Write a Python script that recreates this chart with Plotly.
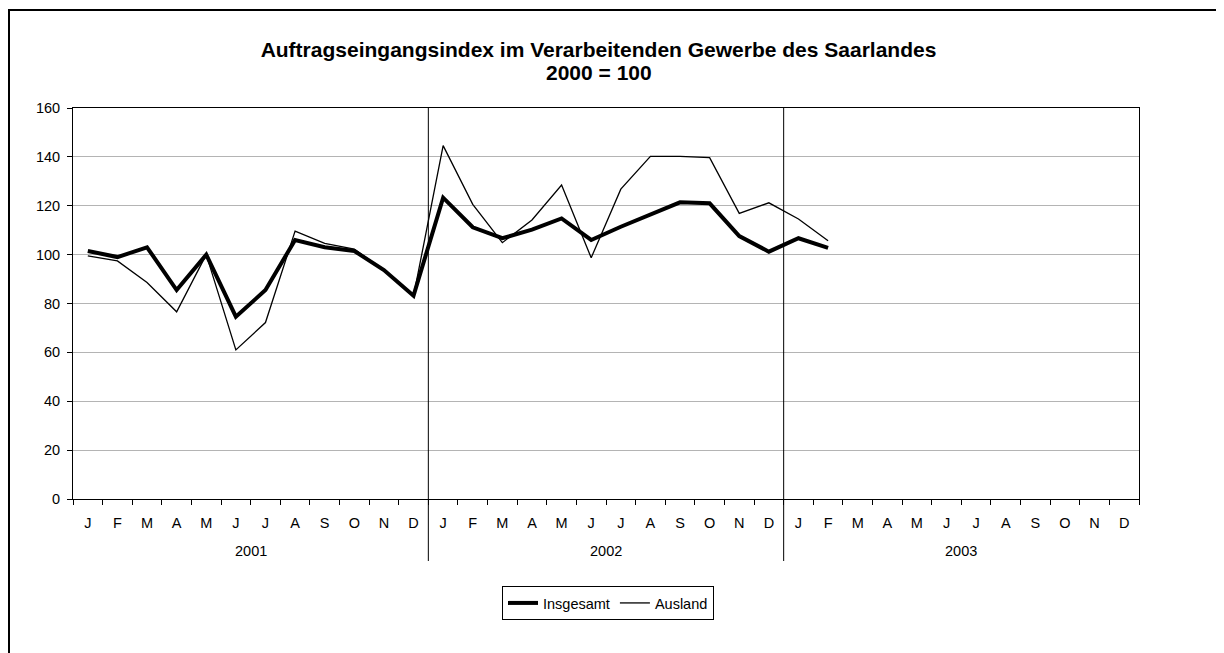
import plotly.graph_objects as go

months = ["J", "F", "M", "A", "M", "J", "J", "A", "S", "O", "N", "D"] * 3
years = ["2001", "2002", "2003"]

insgesamt = [101.5, 99.0, 103.0, 85.5, 100.0, 74.6, 85.5, 106.0, 103.0, 101.5, 93.7, 83.2,
             123.3, 111.2, 106.7, 110.2, 114.8, 106.0, 111.4, 116.5, 121.4, 121.0, 107.6, 101.2,
             106.7, 102.8]
ausland = [99.5, 97.4, 88.6, 76.6, 100.0, 61.0, 72.2, 109.6, 104.6, 102.3, 93.5, 83.0,
           144.6, 120.6, 104.9, 114.2, 128.5, 98.7, 126.8, 140.2, 140.2, 139.7, 116.9, 121.2,
           114.6, 105.7]

FONT = "Arial, Liberation Sans, sans-serif"
OFF = 8  # page body margin
W, H = 1224 - OFF, 653 - OFF
L, R, T, B = 73 - OFF, 1139 - OFF, 108 - OFF, 499 - OFF
pw, ph = R - L, B - T


def py(page_y):
    return -((page_y - OFF) - B) / ph


def px(page_x):
    return ((page_x - OFF) - L) / pw


xs_i = [i + 0.5 for i in range(len(insgesamt))]
xs_a = [i + 0.5 for i in range(len(ausland))]

fig = go.Figure()
fig.add_trace(go.Scatter(x=xs_i, y=insgesamt, mode="lines", name="Insgesamt",
                         line=dict(color="black", width=4)))
fig.add_trace(go.Scatter(x=xs_a, y=ausland, mode="lines", name="Ausland",
                         line=dict(color="black", width=1.3)))

shapes = []
for k in (12, 24):
    shapes.append(dict(type="line", xref="x", yref="paper", x0=k, x1=k,
                       y0=py(561), y1=1, line=dict(color="black", width=1)))
# outer frame (right and bottom sides fall outside the page)
shapes.append(dict(type="rect", xref="paper", yref="paper",
                   x0=px(9), x1=px(1260), y0=py(700), y1=py(10),
                   line=dict(color="black", width=2), layer="below"))

annotations = []
for j, yr in enumerate(years):
    annotations.append(dict(text=yr, x=6 + 12 * j, xref="x", y=py(551), yref="paper",
                            showarrow=False, yanchor="middle",
                            font=dict(size=14.5, color="black", family=FONT)))
annotations.append(dict(text="<b>2000 = 100</b>", x=px(599), xref="paper", y=py(73), yref="paper",
                        showarrow=False, xanchor="center", yanchor="middle",
                        font=dict(size=21, color="black", family=FONT)))

fig.update_layout(
    width=W, height=H,
    margin=dict(l=L, r=W - R, t=T, b=H - B),
    paper_bgcolor="white", plot_bgcolor="white",
    font=dict(family=FONT, size=14.5, color="black"),
    title=dict(text="<b>Auftragseingangsindex im Verarbeitenden Gewerbe des Saarlandes</b>",
               x=px(598.5), xanchor="center", xref="paper", y=1 - (49.5 - OFF) / H, yanchor="middle",
               yref="container", font=dict(size=21, family=FONT, color="black")),
    xaxis=dict(range=[0, 36], tickmode="array", tickvals=[i + 0.5 for i in range(36)], ticktext=months,
               ticks="", showgrid=False, zeroline=False, showline=True, linecolor="black", linewidth=1,
               mirror=True, ticklabelstandoff=11, tickfont=dict(size=14.5),
               minor=dict(tickmode="linear", tick0=0, dtick=1, ticks="outside", ticklen=5,
                          tickcolor="black", showgrid=False)),
    yaxis=dict(range=[0, 160], tickmode="linear", tick0=0, dtick=20, ticks="outside", ticklen=5,
               tickcolor="black", showgrid=True, gridcolor="#b4b4b4", gridwidth=1, zeroline=False,
               showline=True, linecolor="black", linewidth=1, mirror=True, tickfont=dict(size=14.5),
               ticklabelstandoff=4),
    legend=dict(orientation="h", x=px(608), xanchor="center", y=py(603), yanchor="middle",
                bordercolor="black", borderwidth=1, bgcolor="white", font=dict(size=14.5),
                itemwidth=30, tracegroupgap=0),
    shapes=shapes, annotations=annotations, showlegend=True,
)

fig.write_html("out.html", config={"displayModeBar": False})
